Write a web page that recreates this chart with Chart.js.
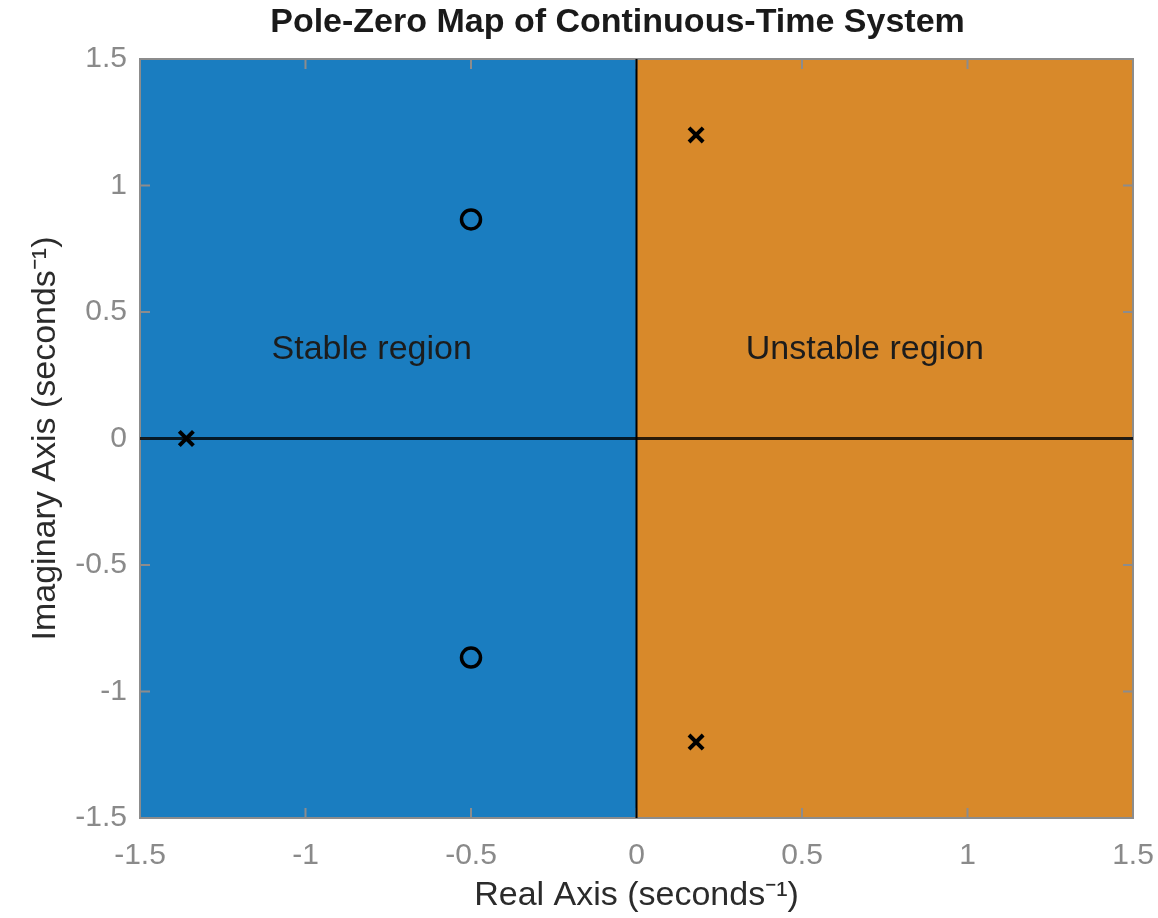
<!DOCTYPE html>
<html>
<head>
<meta charset="utf-8">
<script src="https://cdn.jsdelivr.net/npm/chart.js@4.4.1/dist/chart.umd.min.js"></script>
<style>
  html, body { margin: 0; padding: 0; background: #fff; }
</style>
</head>
<body>
<canvas id="pz" width="1158" height="918"></canvas>
<script>
// axis limits + ticks
const axisRange = [-1.5, 1.5];
const xTickVals = [-1.5, -1, -0.5, 0, 0.5, 1, 1.5];
const xTickLabels = ['-1.5', '-1', '-0.5', '0', '0.5', '1', '1.5'];
const yTickVals = [-1.5, -1, -0.5, 0, 0.5, 1, 1.5];
const yTickLabels = ['-1.5', '-1', '-0.5', '0', '0.5', '1', '1.5'];

// poles (x marks) and zeros (o marks)
const poleRe = [-1.36, 0.18, 0.18];
const poleIm = [0, 1.2, -1.2];
const zeroRe = [-0.5, -0.5];
const zeroIm = [0.866, -0.866];

// half planes
const regionNames = ['Stable region', 'Unstable region'];
const regionFrom = [-1.5, 0];
const regionTo = [0, 1.5];
const regionLabelX = [-0.8, 0.69];
const regionLabelY = [0.35, 0.35];

const FONT = '"Liberation Sans", Arial, Helvetica, sans-serif';
const regionColors = ['#1a7dc0', '#d8892a'];
const frameColor = '#8c8c8c';
const titleText = 'Pole-Zero Map of Continuous-Time System';

const planePlugin = {
  id: 'plane',
  beforeDatasetsDraw(chart) {
    const { ctx, chartArea: a, scales: { x, y } } = chart;
    ctx.save();
    regionFrom.forEach((from, i) => {
      const x0 = x.getPixelForValue(from);
      const x1 = x.getPixelForValue(regionTo[i]);
      ctx.fillStyle = regionColors[i];
      ctx.fillRect(x0, a.top, x1 - x0, a.bottom - a.top);
    });

    // frame + inward tick marks on all four sides (under the marks)
    ctx.strokeStyle = frameColor;
    ctx.lineWidth = 2;
    ctx.strokeRect(a.left, a.top, a.right - a.left, a.bottom - a.top);
    const len = 10;
    ctx.beginPath();
    xTickVals.slice(1, -1).forEach(v => {
      const px = x.getPixelForValue(v);
      ctx.moveTo(px, a.bottom); ctx.lineTo(px, a.bottom - len);
      ctx.moveTo(px, a.top); ctx.lineTo(px, a.top + len);
    });
    yTickVals.slice(1, -1).forEach(v => {
      const py = y.getPixelForValue(v);
      ctx.moveTo(a.left, py); ctx.lineTo(a.left + len, py);
      ctx.moveTo(a.right, py); ctx.lineTo(a.right - len, py);
    });
    ctx.stroke();

    ctx.font = '34px ' + FONT;
    ctx.fillStyle = '#1c1c1c';
    ctx.textAlign = 'center';
    ctx.textBaseline = 'middle';
    regionNames.forEach((t, i) => {
      ctx.fillText(t, x.getPixelForValue(regionLabelX[i]), y.getPixelForValue(regionLabelY[i]));
    });
    ctx.restore();
  },
  afterDraw(chart) {
    const { ctx, chartArea: a } = chart;
    ctx.save();
    ctx.font = 'bold 34px ' + FONT;
    ctx.fillStyle = '#1a1a1a';
    ctx.textAlign = 'center';
    ctx.textBaseline = 'middle';
    ctx.fillText(titleText, (a.left + a.right) / 2 - 19, 23);
    ctx.restore();
  }
};

new Chart(document.getElementById('pz'), {
  type: 'scatter',
  data: {
    datasets: [
      {
        // real axis
        type: 'line',
        data: axisRange.map(v => ({ x: v, y: 0 })),
        borderColor: 'rgba(0,0,0,0.8)',
        borderWidth: 3,
        pointRadius: 0
      },
      {
        // imaginary axis
        type: 'line',
        data: axisRange.map(v => ({ x: 0, y: v })),
        borderColor: '#000',
        borderWidth: 2,
        pointRadius: 0
      },
      {
        label: 'Poles',
        data: poleRe.map((re, i) => ({ x: re, y: poleIm[i] })),
        pointStyle: 'crossRot',
        pointRadius: 10,
        borderColor: '#000',
        borderWidth: 4
      },
      {
        label: 'Zeros',
        data: zeroRe.map((re, i) => ({ x: re, y: zeroIm[i] })),
        pointStyle: 'circle',
        pointRadius: 9.5,
        borderColor: '#000',
        backgroundColor: 'rgba(0,0,0,0)',
        borderWidth: 3.5
      }
    ]
  },
  options: {
    responsive: false,
    animation: false,
    devicePixelRatio: 1,
    layout: { padding: { top: 59, right: 25, left: 0, bottom: 0 } },
    plugins: {
      legend: { display: false },
      tooltip: { enabled: false },
      title: { display: false }
    },
    scales: {
      x: {
        type: 'linear',
        min: axisRange[0],
        max: axisRange[1],
        afterBuildTicks: s => { s.ticks = xTickVals.map(v => ({ value: v })); },
        afterFit: s => { s.height = 100; s.paddingLeft = 0; s.paddingRight = 0; },
        ticks: {
          callback: (v, i) => xTickLabels[i],
          color: '#8a8a8a',
          font: { size: 30, family: FONT },
          padding: 20,
          maxRotation: 0,
          autoSkip: false
        },
        grid: { display: false, drawTicks: false },
        border: { display: false },
        title: {
          display: true,
          text: 'Real Axis (seconds\u207B\u00B9)',
          color: '#2b2b2b',
          font: { size: 34, family: FONT },
          padding: { top: 0, bottom: 2 }
        }
      },
      y: {
        type: 'linear',
        min: axisRange[0],
        max: axisRange[1],
        afterBuildTicks: s => { s.ticks = yTickVals.map(v => ({ value: v })); },
        afterFit: s => { s.width = 140; s.paddingTop = 0; s.paddingBottom = 0; },
        ticks: {
          callback: (v, i) => yTickLabels[i],
          color: '#8a8a8a',
          font: { size: 30, family: FONT },
          padding: 13,
          autoSkip: false
        },
        grid: { display: false, drawTicks: false },
        border: { display: false },
        title: {
          display: true,
          text: 'Imaginary Axis (seconds\u207B\u00B9)',
          color: '#2b2b2b',
          font: { size: 34, family: FONT },
          padding: { top: 25, bottom: 0 }
        }
      }
    }
  },
  plugins: [planePlugin]
});
</script>
</body>
</html>
